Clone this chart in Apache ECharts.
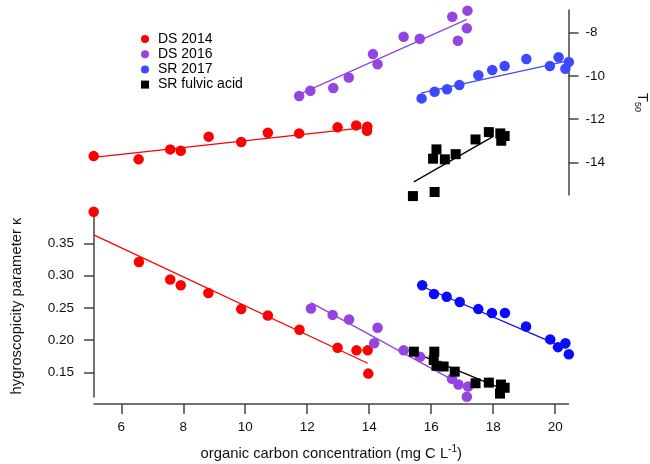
<!DOCTYPE html>
<html><head><meta charset="utf-8">
<script src="https://cdn.jsdelivr.net/npm/echarts@6/dist/echarts.min.js"></script>
<style>html,body{margin:0;padding:0;background:#fff}#c{width:650px;height:464px}</style>
</head><body><div id="c"></div><script>
// ---- tick labels ----
const xTicks = [6, 8, 10, 12, 14, 16, 18, 20];
const kappaTicks = [0.15, 0.20, 0.25, 0.30, 0.35];
const t50Ticks = [-14, -12, -10, -8];
const legendNames = ['DS 2014', 'DS 2016', 'SR 2017', 'SR fulvic acid'];

// ---- T50 (top panel) ----
const ds2014Top = [[5.11,-13.71],[6.56,-13.86],[7.58,-13.40],[7.92,-13.46],[8.82,-12.81],[9.87,-13.06],[10.73,-12.63],[11.74,-12.66],[12.98,-12.38],[13.58,-12.29],[13.94,-12.35],[13.93,-12.54]];
const ds2016Top = [[11.74,-10.93],[12.10,-10.69],[12.84,-10.56],[13.34,-10.07],[14.12,-8.99],[14.27,-9.46],[15.11,-8.19],[15.63,-8.28],[16.68,-7.26],[17.17,-6.98],[17.15,-7.80],[16.86,-8.37]];
const sr2017Top = [[15.69,-11.04],[16.11,-10.73],[16.51,-10.62],[16.91,-10.42],[17.52,-9.97],[17.97,-9.73],[18.37,-9.54],[19.07,-9.22],[19.83,-9.54],[20.11,-9.14],[20.33,-9.67],[20.44,-9.36]];
const fulvicTop = [[15.41,-15.56],[16.11,-15.37],[16.17,-13.40],[16.06,-13.83],[16.44,-13.86],[16.79,-13.62],[17.43,-12.94],[17.86,-12.60],[18.23,-12.66],[18.37,-12.78],[18.26,-13.00]];
const ds2014TopFit = [[5.11,-13.77],[13.94,-12.38]];
const ds2016TopFit = [[11.74,-10.85],[17.15,-7.38]];
const sr2017TopFit = [[15.69,-10.78],[20.30,-9.34]];
const fulvicTopFit = [[15.44,-14.90],[17.99,-12.81]];

// ---- kappa (bottom panel) ----
const ds2014Bot = [[5.11,0.399],[6.57,0.321],[7.58,0.294],[7.92,0.285],[8.81,0.273],[9.87,0.248],[10.73,0.238],[11.75,0.216],[12.98,0.188],[13.59,0.184],[13.95,0.184],[13.97,0.148]];
const ds2016Bot = [[12.12,0.249],[12.82,0.239],[13.35,0.232],[14.27,0.219],[14.16,0.195],[15.11,0.184],[15.64,0.174],[16.67,0.140],[16.88,0.131],[17.19,0.128],[17.15,0.112]];
const sr2017Bot = [[15.71,0.285],[16.09,0.2715],[16.50,0.267],[16.92,0.259],[17.52,0.248],[17.96,0.242],[18.38,0.242],[19.06,0.221],[19.84,0.201],[20.09,0.189],[20.33,0.195],[20.44,0.178]];
const fulvicBot = [[15.44,0.182],[16.10,0.182],[16.08,0.169],[16.17,0.160],[16.40,0.159],[16.76,0.151],[17.43,0.133],[17.86,0.134],[18.25,0.131],[18.37,0.126],[18.22,0.117]];
const ds2014BotFit = [[5.11,0.363],[13.95,0.164]];
const ds2016BotFit = [[12.12,0.258],[17.19,0.125]];
const sr2017BotFit = [[15.71,0.283],[20.35,0.187]];
const fulvicBotFit = [[15.44,0.181],[18.31,0.124]];

const F = 'Liberation Sans, Arial, Helvetica, sans-serif';
const AX = '#444';
const RED = '#ff0000', PUR = '#9444e0', BLUE_T = '#3e48ff', BLUE_B = '#0a0aff', BLK = '#000000';

function scat(name, data, color, xi, yi, sym) {
  return { type: 'scatter', name, data, xAxisIndex: xi, yAxisIndex: yi,
    symbol: sym || 'circle', symbolSize: sym === 'rect' ? 10 : 10.5, clip: false, z: 3,
    itemStyle: { color, opacity: 1 }, emphasis: { disabled: true } };
}
function fit(data, color, xi, yi) {
  return { type: 'line', name: 'fit', data, xAxisIndex: xi, yAxisIndex: yi,
    symbol: 'none', showSymbol: false, clip: false, z: 2, silent: true,
    lineStyle: { color, width: 1.3 }, emphasis: { disabled: true } };
}

const chart = echarts.init(document.getElementById('c'), null, { renderer: 'canvas' });
chart.setOption({
  animation: false,
  backgroundColor: '#fff',
  textStyle: { fontFamily: F },
  grid: [
    { left: 94, right: 81.5, top: 10, height: 185, containLabel: false, outerBoundsMode: 'none' },
    { left: 94, right: 81.5, top: 215, height: 182, containLabel: false, outerBoundsMode: 'none' }
  ],
  legend: {
    orient: 'vertical', left: 136, top: 26.5, itemWidth: 8, itemHeight: 8, itemGap: 0.2,
    textStyle: { fontSize: 14, color: '#000', fontFamily: F, lineHeight: 15, padding: [0, 0, 0, 4] },
    selectedMode: false,
    data: legendNames.map((n, i) => ({ name: n, icon: i === 3 ? 'rect' : 'circle' }))
  },
  xAxis: [
    { gridIndex: 0, type: 'value', min: 5.12, max: 20.43, show: false },
    { gridIndex: 1, type: 'value', min: 5.12, max: 20.43, position: 'bottom', offset: 7,
      axisLine: { show: true, onZero: false, lineStyle: { color: AX, width: 1.5 } },
      axisTick: { show: true, length: 10, customValues: xTicks, lineStyle: { color: AX, width: 1.5 } },
      axisLabel: { customValues: xTicks, margin: 16.5, fontSize: 13.5, color: '#111', fontFamily: F },
      splitLine: { show: false },
      name: 'organic carbon concentration (mg C L{sup|-1})',
      nameLocation: 'middle', nameGap: 49.5,
      nameTextStyle: { fontSize: 14.8, color: '#111', fontFamily: F, lineHeight: 19, verticalAlign: 'middle',
        rich: { sup: { fontSize: 10, lineHeight: 10, verticalAlign: 'top', fontFamily: F, color: '#111' } } }
    }
  ],
  yAxis: [
    { gridIndex: 0, type: 'value', position: 'right', min: -15.51, max: -6.95,
      axisLine: { show: true, onZero: false, lineStyle: { color: AX, width: 1.5 } },
      axisTick: { show: true, length: 10, customValues: t50Ticks, lineStyle: { color: AX, width: 1.5 } },
      axisLabel: { customValues: t50Ticks, margin: 17, fontSize: 13.5, color: '#111', fontFamily: F },
      splitLine: { show: false },
      name: '{t|T}{s|50}', nameLocation: 'middle', nameGap: 64, nameRotate: -90,
      nameTextStyle: { fontFamily: F, color: '#111',
        rich: { t: { fontSize: 14.5, lineHeight: 18, verticalAlign: 'middle', fontFamily: F, color: '#111' },
                s: { fontSize: 9, lineHeight: 9, verticalAlign: 'bottom', fontFamily: F, color: '#111' } } }
    },
    { gridIndex: 1, type: 'value', position: 'left', min: 0.1117, max: 0.3939,
      axisLine: { show: true, onZero: false, lineStyle: { color: AX, width: 1.5 } },
      axisTick: { show: true, length: 10, customValues: kappaTicks, lineStyle: { color: AX, width: 1.5 } },
      axisLabel: { customValues: kappaTicks, margin: 20, fontSize: 13.5, color: '#111', fontFamily: F,
        formatter: v => v.toFixed(2) },
      splitLine: { show: false },
      name: 'hygroscopicity parameter κ', nameLocation: 'middle', nameGap: 70, nameRotate: 90,
      nameTextStyle: { fontSize: 14.8, color: '#111', fontFamily: F }
    }
  ],
  series: [
    fit(ds2014TopFit, RED, 0, 0), fit(ds2016TopFit, PUR, 0, 0), fit(sr2017TopFit, BLUE_T, 0, 0), fit(fulvicTopFit, BLK, 0, 0),
    fit(ds2014BotFit, RED, 1, 1), fit(ds2016BotFit, PUR, 1, 1), fit(sr2017BotFit, BLUE_B, 1, 1), fit(fulvicBotFit, BLK, 1, 1),
    scat('DS 2014', ds2014Top, RED, 0, 0), scat('DS 2016', ds2016Top, PUR, 0, 0),
    scat('SR 2017', sr2017Top, BLUE_T, 0, 0), scat('SR fulvic acid', fulvicTop, BLK, 0, 0, 'rect'),
    scat('DS 2014', ds2014Bot, RED, 1, 1), scat('DS 2016', ds2016Bot, PUR, 1, 1),
    scat('SR 2017', sr2017Bot, BLUE_B, 1, 1), scat('SR fulvic acid', fulvicBot, BLK, 1, 1, 'rect')
  ]
});
</script></body></html>
